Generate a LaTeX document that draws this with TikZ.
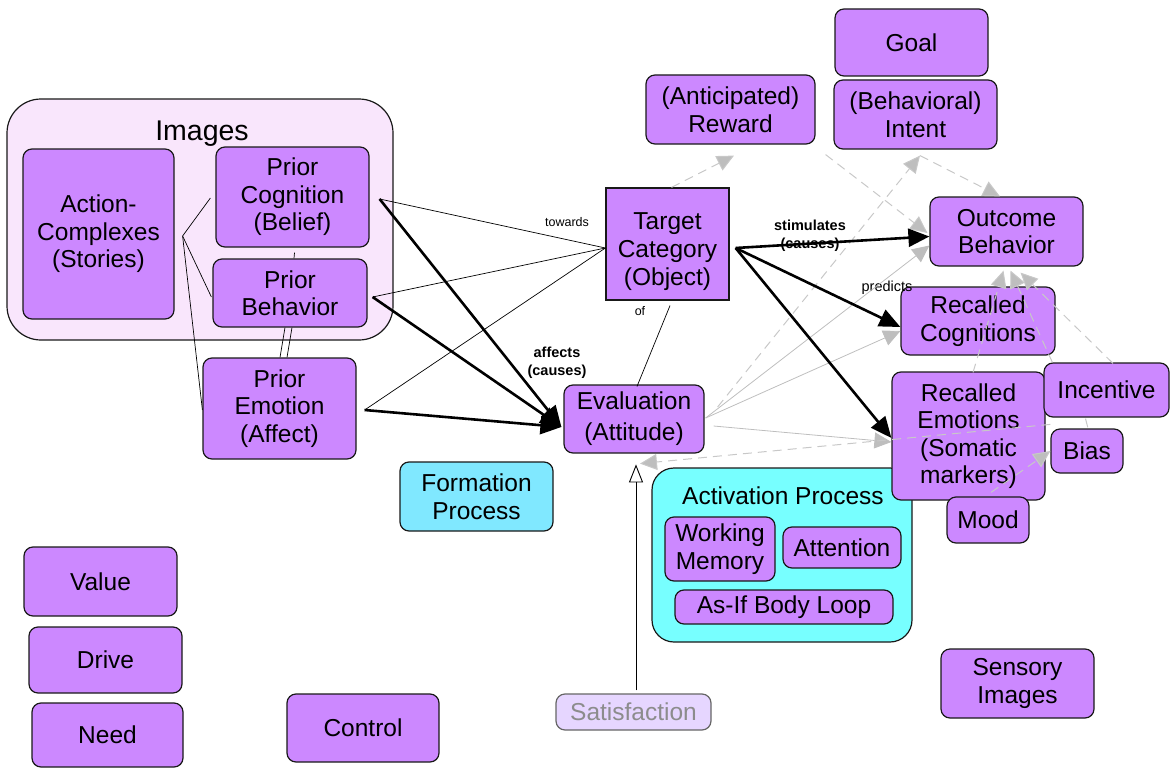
\documentclass[tikz,border=0pt]{standalone}
\usepackage{fontspec}
\setmainfont{Liberation Sans}
\usetikzlibrary{arrows.meta,calc}
\definecolor{boxpurple}{RGB}{204,136,255}
\definecolor{imgpink}{RGB}{249,230,252}
\definecolor{formcyan}{RGB}{128,232,255}
\definecolor{actcyan}{RGB}{119,255,255}
\definecolor{satfill}{RGB}{230,214,255}
\definecolor{satgray}{RGB}{140,140,140}
\definecolor{linkgray}{RGB}{165,165,165}
\definecolor{dashgray}{RGB}{200,200,200}
\definecolor{headgray}{RGB}{190,190,190}

\begin{document}
\begin{tikzpicture}[x=1pt,y=-1pt,
  every node/.style={font=\fontsize{24.5}{27.5}\selectfont, inner sep=0pt, align=center},
  sz/.style 2 args={minimum width=#1pt, minimum height=#2pt},
  concept/.style={draw=black!90, line width=1.2pt, fill=boxpurple, rounded corners=9pt},
  target/.style={draw=black!90, line width=1.2pt, fill=boxpurple},
  group/.style={draw=black!90, line width=1.2pt, rounded corners=#1},
  lbl/.style={font=\fontsize{12.5}{15}\selectfont},
  plbl/.style={font=\fontsize{14.5}{17}\selectfont},
  blbl/.style={font=\fontsize{14.5}{18}\selectfont\bfseries},
  assoc/.style={draw=black, line width=0.7pt},
  cause/.style={draw=black, line width=2.6pt, -{Triangle[length=21pt,width=18pt]}},
  link/.style={draw=linkgray, line width=0.8pt, -{Triangle[length=17pt,width=16pt,fill=headgray]}, headgray},
  hint/.style={draw=dashgray, line width=1pt, dash pattern=on 9pt off 6pt, -{Triangle[length=17pt,width=16pt,fill=headgray]}},
  plainhint/.style={draw=dashgray, line width=1pt, dash pattern=on 9pt off 6pt},
]
\useasboundingbox (0,0) rectangle (1170,768);

% ---------- containers ----------
\node[group=34pt, fill=imgpink, sz={386}{241}] (images) at (200,219.5) {};
\node (imagestitle) at (202,134) {\fontsize{28.5}{32}\selectfont Images};
\node[group=22pt, fill=actcyan, sz={260}{174}] (activation) at (782,555) {};
\node (acttitle) at (783,496) {Activation Process};

% ---------- concepts ----------
\node[concept, sz={151}{170}] (ac) at (98.5,234) {Action-\\Complexes\\(Stories)};
\node[concept, sz={153}{100}] (pcog) at (292.5,197) {Prior\\Cognition\\(Belief)};
\node[concept, sz={154}{68}] (pbeh) at (290,293) {Prior\\Behavior};
\node[concept, sz={153}{101}] (pemo) at (279.5,408.5) {Prior\\Emotion\\(Affect)};
\node[target, sz={123}{112}, text depth=0pt] (tc) at (667.5,244) {\raisebox{20pt}{\begin{tabular}{@{}c@{}}Target\\[0.5pt]Category\\[0.5pt](Object)\end{tabular}}};
\node[concept, sz={140}{68}, font=\fontsize{24.5}{31}\selectfont] (eval) at (634,419) {Evaluation\\(Attitude)};
\node[concept, sz={169}{69}] (reward) at (730.5,109.5) {(Anticipated)\\Reward};
\node[concept, sz={153}{67}] (goal) at (911.5,42.5) {Goal};
\node[concept, sz={163}{69}] (intent) at (915.5,114.5) {(Behavioral)\\Intent};
\node[concept, sz={153}{69}] (outcome) at (1006.5,231.5) {Outcome\\Behavior};
\node[concept, sz={154}{68}] (rcog) at (978,321) {Recalled\\Cognitions};
\node[concept, sz={153}{128}] (remo) at (968.5,436) {Recalled\\Emotions\\(Somatic\\markers)};
\node[concept, sz={125}{54}] (incentive) at (1106.5,390) {Incentive};
\node[concept, sz={72}{44}] (bias) at (1087,451) {Bias};
\node[concept, sz={82}{46}] (mood) at (988,520) {Mood};
\node[concept, sz={153}{69}, fill=formcyan] (formation) at (476.5,496.5) {Formation\\Process};
\node[concept, sz={110}{64}] (wm) at (720,549) {Working\\Memory};
\node[concept, sz={118}{41}] (attention) at (842,547.5) {Attention};
\node[concept, sz={218}{34}] (asif) at (784,607) {As-If Body Loop};
\node[concept, sz={153}{69}] (value) at (100.5,581.5) {Value};
\node[concept, sz={153}{66}] (drive) at (105.5,660) {Drive};
\node[concept, sz={151}{64}] (need) at (107.5,735) {Need};
\node[concept, sz={152}{68}] (control) at (363,728) {Control};
\node[concept, sz={155}{36}, fill=satfill, draw=black!60, text=satgray] (sat) at (633.5,712) {Satisfaction};
\node[concept, sz={153}{69}] (sensory) at (1017.5,683.5) {Sensory\\Images};

% ---------- edge labels ----------
\node[lbl] (towards) at (567,222) {towards};
\node[lbl] (oflbl) at (640,311) {of};
\node[blbl] (affects) at (557,363) {affects\\(causes)};
\node[blbl] (stimulates) at (810,236) {stimulates\\(causes)};
\node[plbl] (predicts) at (887,288) {predicts};

% ---------- connection points ----------
\coordinate (hub) at ([shift={(8,2)}]ac.east);
\coordinate (pcogR) at ([shift={(10,2)}]pcog.east);
\coordinate (pbehR) at ([shift={(5,4)}]pbeh.east);
\coordinate (pemoR) at ([shift={(8,1.5)}]pemo.east);
\coordinate (tcL) at ([shift={(0,4)}]tc.west);
\coordinate (tcR) at ([shift={(6,4)}]tc.east);
\coordinate (evalIn) at ([shift={(-2,8)}]eval.west);
\coordinate (evalR) at ([shift={(1,-1)}]eval.east);
\coordinate (intentS) at ([shift={(4.5,6)}]intent.south);
\coordinate (evalBelow) at ([shift={(6,10)}]eval.south);

% ---------- associations among prior images ----------
\draw[assoc] (hub) -- ([shift={(-5,1)}]pcog.west);
\draw[assoc] (hub) -- ([shift={(-1,4)}]pbeh.west);
\draw[assoc] (hub) -- ([shift={(0,1.5)}]pemo.west);
\draw[assoc] ([shift={(2,5)}]pcog.south) -- ([shift={(4,0)}]pbeh.north);
\draw[assoc] ([shift={(-5,0)}]pbeh.south) -- ([shift={(0.5,0)}]pemo.north);
\draw[assoc] ([shift={(2,0)}]pbeh.south) -- ([shift={(7.5,0)}]pemo.north);

% ---------- "towards" the target ----------
\draw[assoc] (pcogR) -- (tcL);
\draw[assoc] (pbehR) -- (tcL);
\draw[assoc] (pemoR) -- (tcL);
\draw[assoc] ([shift={(2.5,5)}]tc.south) -- ([shift={(3,2)}]eval.north);

% ---------- predictive links from the evaluation ----------
\draw[link] (evalR) -- ([shift={(0,14)}]outcome.west);
\draw[link] (evalR) -- ([shift={(0,10)}]rcog.west);
\draw[link] ([shift={(9,7)}]eval.east) -- ([shift={(0,6)}]remo.west);

% ---------- dashed influences ----------
\draw[hint] ([shift={(4,0)}]tc.north) -- ([shift={(3.5,11)}]reward.south);
\draw[hint] ([shift={(10,10)}]reward.south east) -- ([shift={(-2,1.5)}]outcome.west);
\draw[hint] ([shift={(13,-12)}]eval.east) -- (intentS);
\draw[hint] (intentS) -- ([shift={(-6.5,0)}]outcome.north);
\draw[hint] ([shift={(4.5,1)}]remo.north) -- ([shift={(-3,4)}]outcome.south);
\draw[hint] ([shift={(9,0)}]incentive.north west) -- ([shift={(4,4)}]outcome.south);
\draw[hint] ([shift={(6.5,1)}]incentive.north) -- ([shift={(14,6)}]outcome.south);
\draw[plainhint] ([shift={(-21,1)}]incentive.south) -- ([shift={(1,0)}]bias.north);
\draw[hint] ([shift={(0,-4)}]bias.north west) -- (evalBelow);
\draw[hint] ([shift={(3,-4)}]mood.north) -- (bias.west);

% ---------- causal links ----------
\draw[cause] (pcogR) -- (evalIn);
\draw[cause] (pbehR) -- (evalIn);
\draw[cause] (pemoR) -- (evalIn);
\draw[cause] (tcR) -- ([shift={(0,5)}]outcome.west);
\draw[cause] (tcR) -- ([shift={(0,6)}]rcog.west);
\draw[cause] (tcR) -- ([shift={(0,2)}]remo.west);

% ---------- satisfaction feedback ----------
\draw[line width=0.9pt, -{Triangle[open,length=18pt,width=14pt]}] ([shift={(2.5,-3)}]sat.north) -- ([shift={(2.5,-229)}]sat.north);

\end{tikzpicture}
\end{document}
